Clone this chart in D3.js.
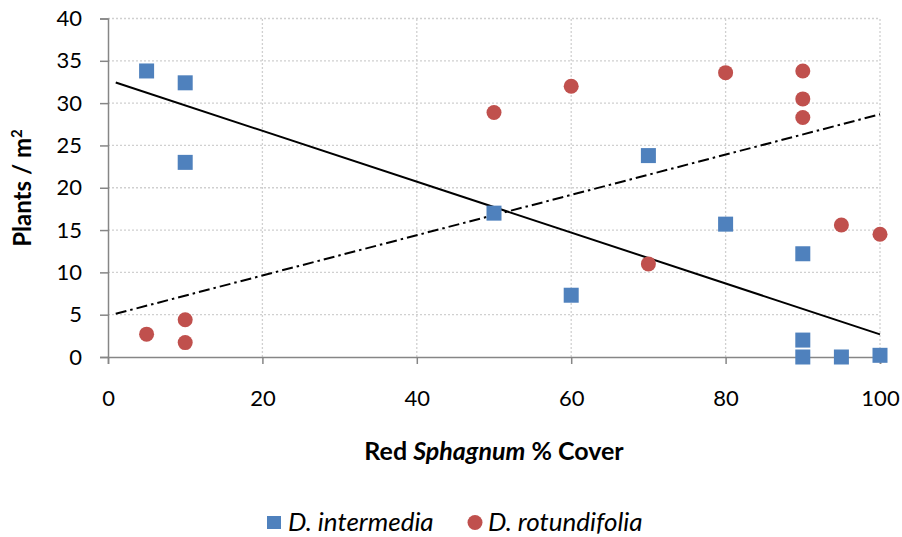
<!DOCTYPE html>
<html>
<head>
<meta charset="utf-8">
<script src="https://cdn.jsdelivr.net/npm/d3@7"></script>
<style>
  body { margin: 0; background: #fff; }
  text { font-family: Lato, "Open Sans", sans-serif; fill: #000; }
</style>
</head>
<body>
<div id="chart"></div>
<script>
// % red Sphagnum cover for each quadrat
var coverIntermedia = [5, 10, 10, 50, 60, 70, 80, 90, 90, 90, 95, 100];
var plantsIntermedia = [33.8, 32.4, 23, 17, 7.3, 23.8, 15.7, 12.2, 2.0, 0, 0, 0.2];
var coverRotundifolia = [5, 10, 10, 50, 60, 70, 80, 90, 90, 90, 95, 100];
var plantsRotundifolia = [2.7, 4.4, 1.7, 28.9, 32, 11, 33.6, 33.8, 30.5, 28.3, 15.6, 14.5];
var xTicks = [0, 20, 40, 60, 80, 100];
var yTicks = [0, 5, 10, 15, 20, 25, 30, 35, 40];
var trendStart = 1, trendEnd = 100;

var width = 902,
    height = 537;

var x = d3.scaleLinear().domain([0, 100]).range([108, 880]);
var y = d3.scaleLinear().domain([0, 40]).range([357, 18.5]);

var svg = d3.select("#chart")
    .append("svg")
    .attr("width", width)
    .attr("height", height);

// gridlines
svg.append("g")
    .selectAll("line")
    .data(yTicks.filter(function(d) { return d > 0; }))
    .enter().append("line")
    .attr("x1", x(0)).attr("x2", x(100))
    .attr("y1", function(d) { return y(d); })
    .attr("y2", function(d) { return y(d); })
    .attr("stroke", "#d0d0d0")
    .attr("stroke-width", 1.3)
    .attr("stroke-dasharray", "2,2");

svg.append("g")
    .selectAll("line")
    .data(xTicks.filter(function(d) { return d > 0; }))
    .enter().append("line")
    .attr("y1", y(0)).attr("y2", y(40))
    .attr("x1", function(d) { return x(d); })
    .attr("x2", function(d) { return x(d); })
    .attr("stroke", "#d0d0d0")
    .attr("stroke-width", 1.3)
    .attr("stroke-dasharray", "2,2");

// axes
var xAxis = svg.append("g")
    .attr("transform", "translate(0," + y(0) + ")")
    .call(d3.axisBottom(x).tickValues(xTicks).tickSize(7).tickPadding(26));
var yAxis = svg.append("g")
    .attr("transform", "translate(" + x(0) + ",0)")
    .call(d3.axisLeft(y).tickValues(yTicks).tickSize(8).tickPadding(18));

[xAxis, yAxis].forEach(function(a) {
  a.select(".domain").attr("stroke", "#868686").attr("stroke-width", 1.5);
  a.selectAll(".tick line").attr("stroke", "#868686").attr("stroke-width", 1.5);
  a.selectAll(".tick text").style("font-size", "22px").attr("fill", "#000");
});

// trend lines (least squares)
function fit(xs, ys) {
  var mx = d3.mean(xs), my = d3.mean(ys), sxy = 0, sxx = 0;
  xs.forEach(function(v, i) { sxy += (v - mx) * (ys[i] - my); sxx += (v - mx) * (v - mx); });
  var b = sxy / sxx;
  return function(v) { return my + b * (v - mx); };
}
var fI = fit(coverIntermedia, plantsIntermedia);
var fR = fit(coverRotundifolia, plantsRotundifolia);

svg.append("line")
    .attr("x1", x(trendStart)).attr("y1", y(fI(trendStart)))
    .attr("x2", x(trendEnd)).attr("y2", y(fI(trendEnd)))
    .attr("stroke", "#000").attr("stroke-width", 2);

svg.append("line")
    .attr("x1", x(trendStart)).attr("y1", y(fR(trendStart)))
    .attr("x2", x(trendEnd)).attr("y2", y(fR(trendEnd)))
    .attr("stroke", "#000").attr("stroke-width", 2)
    .attr("stroke-dasharray", "11,4,2.5,4");

// markers
var blue = "#4f81bd", red = "#c0504d";

svg.append("g")
    .selectAll("rect")
    .data(coverIntermedia)
    .enter().append("rect")
    .attr("x", function(d) { return x(d) - 7.5; })
    .attr("y", function(d, i) { return y(plantsIntermedia[i]) - 7.5; })
    .attr("width", 15).attr("height", 15)
    .attr("fill", blue);

svg.append("g")
    .selectAll("circle")
    .data(coverRotundifolia)
    .enter().append("circle")
    .attr("cx", function(d) { return x(d); })
    .attr("cy", function(d, i) { return y(plantsRotundifolia[i]); })
    .attr("r", 7.5)
    .attr("fill", red);

// axis titles
var xt = svg.append("text")
    .attr("x", 494).attr("y", 460)
    .attr("text-anchor", "middle")
    .style("font-size", "25px").style("font-weight", "bold");
xt.append("tspan").text("Red ");
xt.append("tspan").style("font-style", "italic").text("Sphagnum");
xt.append("tspan").text(" % Cover");

var yt = svg.append("text")
    .attr("transform", "translate(31,188) rotate(-90)")
    .attr("text-anchor", "middle")
    .style("font-size", "24px").style("font-weight", "bold");
yt.append("tspan").text("Plants / m");
yt.append("tspan").attr("dy", -9).style("font-size", "15px").text("2");

// legend
var legend = svg.append("g");
legend.append("rect")
    .attr("x", 267).attr("y", 516).attr("width", 14).attr("height", 13)
    .attr("fill", blue);
legend.append("text")
    .attr("x", 288).attr("y", 531)
    .style("font-size", "26px").style("font-style", "italic")
    .text("D. intermedia");
legend.append("circle")
    .attr("cx", 475).attr("cy", 522.5).attr("r", 7.5)
    .attr("fill", red);
legend.append("text")
    .attr("x", 488).attr("y", 531)
    .style("font-size", "26px").style("font-style", "italic")
    .text("D. rotundifolia");
</script>
</body>
</html>
